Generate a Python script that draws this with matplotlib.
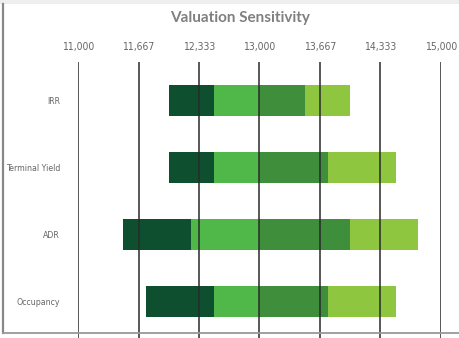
import numpy as np
import matplotlib
matplotlib.use("Agg")
import matplotlib.pyplot as plt
from matplotlib import font_manager
from matplotlib.lines import Line2D
from matplotlib.patches import Rectangle

# Sensitivity inputs (top to bottom) and valuation outcomes
categories = ["IRR", "Terminal Yield", "ADR", "Occupancy"]
base_value = 13000
low_far = [12000, 12000, 11500, 11750]
low_near = [12500, 12500, 12250, 12500]
high_near = [13500, 13750, 14000, 13750]
high_far = [14000, 14500, 14750, 14500]
tick_values = [11000, 11667, 12333, 13000, 13667, 14333, 15000]
tick_labels = ["11,000", "11,667", "12,333", "13,000", "13,667", "14,333", "15,000"]

c_dark = "#0e4f2f"
c_light = "#50b848"
c_mid = "#3e8e3c"
c_yg = "#8fc640"

# Prefer a regular-weight narrow face for the small labels
def _weight(f):
    w = f.weight
    if isinstance(w, str):
        return {"normal": 400, "regular": 400, "book": 400}.get(w, 700)
    return w

narrow = None
cands = []
for f in font_manager.fontManager.ttflist:
    n = f.name.lower()
    if ("narrow" in n or "condensed" in n or str(f.stretch) in ("condensed", "semi-condensed")) \
            and f.style == "normal":
        cands.append((abs(_weight(f) - 400), f.fname))
if cands:
    cands.sort()
    narrow = cands[0][1]

tick_size, cat_size = 7.5, 6.3

W, H = 460, 338
fig = plt.figure(figsize=(W / 100, H / 100), dpi=100)
fig.patch.set_facecolor("white")

ax_left, ax_right, ax_top = 78, 441, 62
ax = fig.add_axes([ax_left / W, 0, (ax_right - ax_left) / W, (H - ax_top) / H])
ax.set_xlim(11000, 15000)
ax.set_ylim(3.536, -0.565)
ax.set_facecolor("none")
for s in ax.spines.values():
    s.set_visible(False)

y = np.arange(len(categories))
bh = 0.46
ax.barh(y, np.subtract(low_near, low_far), left=low_far, height=bh, color=c_dark, zorder=2)
ax.barh(y, base_value - np.array(low_near), left=low_near, height=bh, color=c_light, zorder=2)
ax.barh(y, np.array(high_near) - base_value, left=base_value, height=bh, color=c_mid, zorder=2)
ax.barh(y, np.subtract(high_far, high_near), left=high_near, height=bh, color=c_yg, zorder=2)

for v in tick_values:
    ax.axvline(v, color="#2a2a2a", lw=1.1, zorder=3)

ax.xaxis.tick_top()
ax.set_xticks(tick_values)
ax.set_xticklabels(tick_labels, color="#666666")
ax.set_yticks(y)
ax.set_yticklabels(categories, color="#666666")
for t in ax.get_xticklabels():
    if narrow:
        t.set_fontproperties(font_manager.FontProperties(fname=narrow, size=tick_size))
    else:
        t.set_family("Roboto"); t.set_fontsize(6.5)
for t in ax.get_yticklabels():
    if narrow:
        t.set_fontproperties(font_manager.FontProperties(fname=narrow, size=cat_size))
    else:
        t.set_family("Roboto"); t.set_fontsize(5.5)
ax.tick_params(axis="x", length=0, pad=7)
ax.tick_params(axis="y", length=0, pad=13)

# Frame: light band on top, grey rule on left and bottom
fig.add_artist(Rectangle((0, 1 - 4 / H), 1, 4 / H, transform=fig.transFigure,
                         color="#eeeeee", lw=0))
fig.add_artist(Line2D([3.5 / W, 3.5 / W], [1 - 4 / H, 1 - 332.5 / H],
                      transform=fig.transFigure, color="#888888", lw=1.6))
fig.add_artist(Line2D([3.5 / W, 1], [1 - 332.5 / H, 1 - 332.5 / H],
                      transform=fig.transFigure, color="#999999", lw=1.3))

fig.text(240 / W, 1 - 18 / H, "Valuation Sensitivity", ha="center", va="center",
         fontsize=11, fontweight="bold", color="#808080", family="Lato")

fig.savefig("out.png", dpi=100)
